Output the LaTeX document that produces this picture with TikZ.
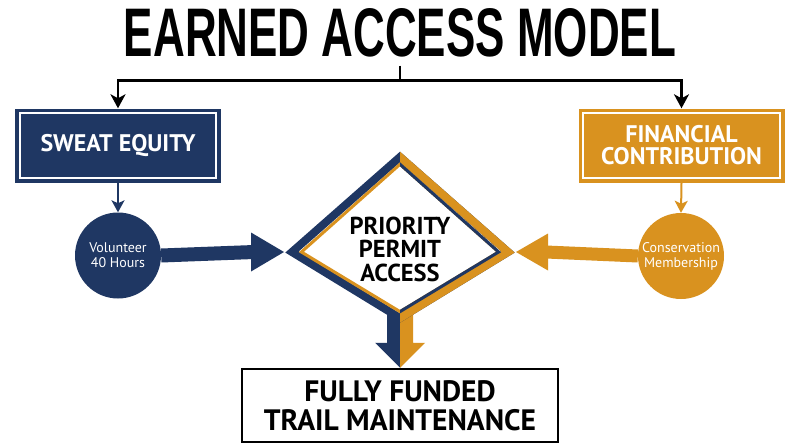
\documentclass[tikz,border=0pt]{standalone}
\usepackage{fontspec}
\setmainfont{PT Sans}
\newfontfamily\titlefont{Liberation Sans}
\usetikzlibrary{arrows.meta,calc}
\definecolor{navy}{HTML}{1F3763}
\definecolor{gold}{HTML}{D9921F}
\begin{document}
\begin{tikzpicture}[x=1pt,y=-1pt,
  conn/.style={line width=2.4pt,-{Stealth[length=14pt,width=15pt,inset=4pt]}},
  thinarrow/.style={line width=2pt,-{Stealth[length=12pt,width=13pt,inset=3pt]}},
  headbox/.style={minimum width=206pt,minimum height=74pt,inner sep=0pt,text=white,align=center,
    font=\bfseries\fontsize{24}{22}\selectfont},
  bubble/.style={circle,minimum size=86pt,inner sep=0pt,text=white,align=center,
    font=\fontsize{14}{15}\selectfont},
]
\useasboundingbox (0,0) rectangle (800,447);
\fill[white] (0,0) rectangle (800,447);

% title
\node[inner sep=0pt] (title) at (400,33) {\resizebox{552pt}{48pt}{\titlefont\bfseries EARNED ACCESS MODEL}};

% top boxes
\node[headbox,fill=navy] (sweat) at (118,145.5) {SWEAT EQUITY};
\node[headbox,fill=gold] (fin) at (681.5,145.5) {FINANCIAL\\CONTRIBUTION};
\draw[white,line width=2pt] ($(sweat.north west)+(5,5)$) rectangle ($(sweat.south east)+(-5,-5)$);
\draw[white,line width=2pt] ($(fin.north west)+(5,5)$) rectangle ($(fin.south east)+(-5,-5)$);

% title connectors
\coordinate (hub) at ($(title.south)+(0,23)$);
\draw[line width=2.4pt] ($(title.south)+(0,8)$) -- (hub);
\draw[conn] (hub) -| (sweat.north);
\draw[conn] (hub) -| (fin.north);

% circles
\node[bubble,fill=navy] (vol) at (118,255.5) {Volunteer\\40 Hours};
\node[bubble,fill=gold] (cons) at (681,256) {Conservation\\Membership};
\draw[navy,thinarrow] (sweat.south) -- (vol.north);
\draw[gold,thinarrow] (fin.south) -- (cons.north);

% bottom box
\node[draw=black,line width=2.5pt,minimum width=316pt,minimum height=73pt,inner sep=0pt,align=center,
  font=\bfseries\fontsize{29.5}{29}\selectfont] (fund) at (400,405.5) {FULLY FUNDED\\TRAIL MAINTENANCE};

% diamond geometry
\coordinate (dT) at (400,157);
\coordinate (dL) at (292,252);
\coordinate (dR) at (508,252);
\coordinate (dB) at (400,318);
\coordinate (dLo) at (284,252);
\coordinate (dRo) at (516,252);

% down arrow (split)
\fill[navy] (387,300) -- (400,300) -- (fund.north) -- ++(-25,-25) -- ++(12,0) -- cycle;
\fill[gold] (413,300) -- (400,300) -- (fund.north) -- ++(25,-25) -- ++(-12,0) -- cycle;

% diamond
\fill[white] (dT) -- (dL) -- (dB) -- (dR) -- cycle;
\draw[navy,line width=8pt,line join=miter] (dT) -- (dL) -- (dB) -- (dR) -- cycle;
\begin{scope}
  \clip (400,0) rectangle (800,447);
  \draw[gold,line width=8pt,line join=miter] (dT) -- (dL) -- (dB) -- (dR) -- cycle;
\end{scope}
\draw[gold,line width=3pt,line join=miter] (400,164.3) -- (301.4,252) -- (400,311.6) -- (498.6,252) -- cycle;
\begin{scope}
  \clip (400,0) rectangle (800,447);
  \draw[navy,line width=3pt,line join=miter] (400,164.3) -- (301.4,252) -- (400,311.6) -- (498.6,252) -- cycle;
\end{scope}
\node[align=center,inner sep=0pt,font=\bfseries\fontsize{24.5}{23.5}\selectfont] (prio) at (400,249) {PRIORITY\\PERMIT\\ACCESS};

% big arrows into diamond
\draw[navy,line width=14pt] (vol.east) -- ($(dLo)+(-30,0)$);
\fill[navy] (dLo) -- ++(-33,-19.5) -- ++(0,39) -- cycle;
\draw[gold,line width=13pt] (cons.west) -- ($(dRo)+(30,0)$);
\fill[gold] (dRo) -- ++(32,-18.5) -- ++(0,37) -- cycle;
\end{tikzpicture}
\end{document}
